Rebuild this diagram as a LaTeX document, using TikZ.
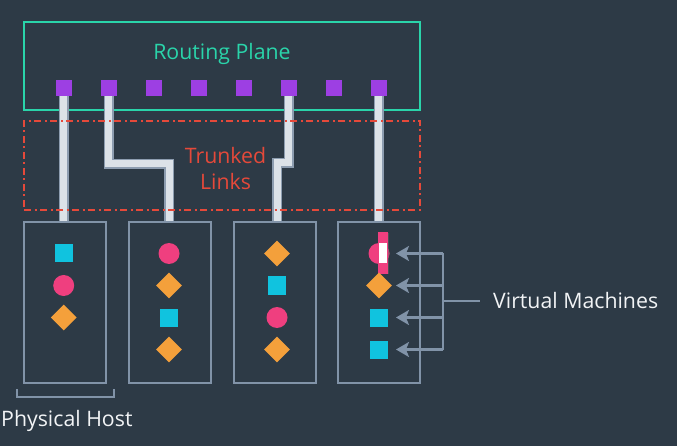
\documentclass[tikz,border=0pt]{standalone}
\usepackage{fontspec}
\setmainfont{Open Sans}
\usetikzlibrary{arrows.meta,shapes.geometric}
\definecolor{bg}{HTML}{2D3A46}
\definecolor{teal}{HTML}{2AD4AA}
\definecolor{redc}{HTML}{E5493A}
\definecolor{purp}{HTML}{9D3FE3}
\definecolor{hostc}{HTML}{8193A8}
\definecolor{linkb}{HTML}{8D9DB0}
\definecolor{linkf}{HTML}{DCE2E8}
\definecolor{cyanc}{HTML}{10C3DF}
\definecolor{pinkc}{HTML}{EF3F7F}
\definecolor{orangec}{HTML}{F4A03B}
\definecolor{txt}{HTML}{F2F4F6}
\begin{document}
\begin{tikzpicture}[x=1pt,y=-1pt,
  hostbox/.style={draw=hostc, line width=2pt, minimum width=82pt, minimum height=161pt, inner sep=0pt},
  port/.style={fill=purp, minimum size=16pt, inner sep=0pt},
  vmsq/.style={fill=cyanc, minimum size=18pt, inner sep=0pt},
  vmci/.style={circle, fill=pinkc, minimum size=21pt, inner sep=0pt},
  vmdi/.style={diamond, fill=orangec, minimum width=26pt, minimum height=26pt, inner sep=0pt},
  link/.style={draw=linkb, line width=1.6pt, double=linkf, double distance=7pt},
  lbl/.style={inner sep=0pt, font=\fontsize{21.3}{25}\selectfont},
  vmarrow/.style={draw=hostc, line width=2.2pt, -{Stealth[length=13pt,width=15pt,inset=3pt]}},
  guide/.style={draw=hostc, line width=2.2pt}
]
\fill[bg] (0,0) rectangle (677,446);
\useasboundingbox (0,0) rectangle (677,446);

% routing plane
\node[draw=teal, line width=2.4pt, minimum width=396pt, minimum height=88pt, inner sep=0pt] (rp) at (222,66) {};
\node[lbl, text=teal, anchor=base] (rpl) at (222,59.7) {Routing Plane};

% ports
\foreach \i/\x in {1/63.7,2/108.7,3/153.7,4/198.7,5/243.7,6/288.7,7/333.7,8/378.7}
  \node[port] (p\i) at (\x,88) {};

% host boxes
\node[hostbox] (h1) at (65,302.5) {};
\node[hostbox] (h2) at (170,302.5) {};
\node[hostbox] (h3) at (274.6,302.5) {};
\node[hostbox] (h4) at (379,302.5) {};

% column coordinates
\coordinate (c1) at (63.7,221);
\coordinate (c2) at (169,221);
\coordinate (c3) at (277,221);
\coordinate (c4) at (378.7,221);

% links
\draw[link] (p1.center) -- (c1);
\draw[link] (p2.center) -- (p2.center |- 0,164) -- (c2 |- 0,164) -- (c2);
\draw[link] (p6.center) -- (p6.center |- 0,163) -- (c3 |- 0,163) -- (c3);
\draw[link] (p8.center) -- (c4);
% ports on top of links
\foreach \i/\x in {1/63.7,2/108.7,3/153.7,4/198.7,5/243.7,6/288.7,7/333.7,8/378.7}
  \node[port] at (\x,88) {};

% trunked links box
\node[draw=redc, line width=2.2pt, dash pattern=on 7pt off 3.5pt on 2pt off 3.5pt, minimum width=396pt, minimum height=89pt, inner sep=0pt] (tb) at (222,165.5) {};
\node[lbl, text=redc, anchor=base] (tl1) at (225.5,164) {Trunked};
\node[lbl, text=redc, anchor=base] (tl2) at (225.5,190) {Links};

% VMs host 1
\node[vmsq] (v11) at (63.7,253.5) {};
\node[vmci] (v12) at (63.7,285.5) {};
\node[vmdi] (v13) at (63.7,317.5) {};
% host 2
\node[vmci] (v21) at (169,253.5) {};
\node[vmdi] (v22) at (169,285.5) {};
\node[vmsq] (v23) at (169,317.5) {};
\node[vmdi] (v24) at (169,349.5) {};
% host 3
\node[vmdi] (v31) at (277,253.5) {};
\node[vmsq] (v32) at (277,285.5) {};
\node[vmci] (v33) at (277,317.5) {};
\node[vmdi] (v34) at (277,349.5) {};
% host 4
\node[vmci] (v41) at (379,253.5) {};
\fill[pinkc] (377.8,232.5) rectangle (388,274.2);
\fill[white] (379.3,243.3) rectangle (386.6,263.4);
\draw[black!60, line width=0.8pt, opacity=0.5] (388.4,233) -- (388.4,274.5);
\node[vmdi] (v42) at (379,285.5) {};
\node[vmsq] (v43) at (379,317.5) {};
\node[vmsq] (v44) at (379,349.5) {};

% VM arrows
\coordinate (b1) at (443,253.5);
\coordinate (b2) at (443,285.5);
\coordinate (b3) at (443,317.5);
\coordinate (b4) at (443,349.5);
\coordinate (t1) at (396,253.5);
\coordinate (t2) at (396,285.5);
\coordinate (t3) at (396,317.5);
\coordinate (t4) at (396,349.5);
\coordinate (bm) at (443,301);
\coordinate (be) at (480,301);
\draw[guide] (b1) -- (b4);
\draw[guide] (bm) -- (be);
\foreach \k in {1,2,3,4} \draw[vmarrow] (b\k) -- (t\k);
\node[lbl, text=txt, anchor=base west] (vml) at (493,308.7) {Virtual Machines};

% physical host bracket
\coordinate (k1) at (17,389);
\coordinate (k2) at (114,389);
\draw[guide] (k1) -- (17,397) -- (114,397) -- (k2);
\node[lbl, text=txt, anchor=base west] (phl) at (1,426.7) {Physical Host};
\end{tikzpicture}
\end{document}
